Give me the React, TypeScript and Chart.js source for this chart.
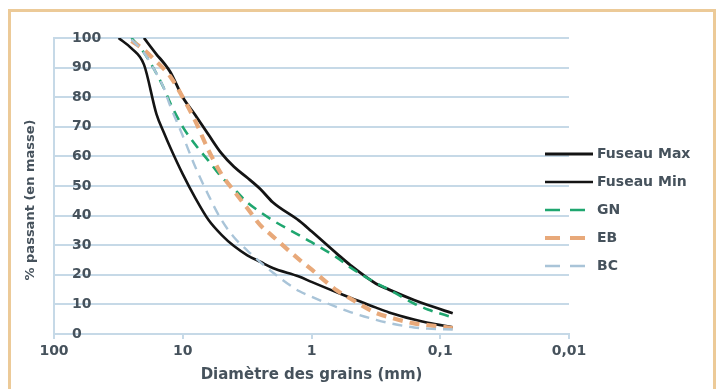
import React, { useEffect, useRef } from 'react';
import { Chart, registerables } from 'chart.js';

Chart.register(...registerables);

// Sieve sizes (mm)
const sieves = [31.5, 25, 20, 16, 14, 12.5, 10, 8, 6.3, 5, 4, 3.15, 2.5, 2, 1.25, 1, 0.63, 0.5, 0.315, 0.25, 0.16, 0.125, 0.08];

// % passing for each series (null = not plotted)
const fuseauMax = [null, null, 100, 94.5, 91.5, 88.5, 80, 74, 67.3, 61, 56.5, 52.8, 49, 44.5, 38.3, 34.7, 27, 23.3, 17, 15, 11.5, 9.8, 7];
const fuseauMin = [100, 96.5, 91, 74.3, 68, 63, 54, 46, 38.5, 33.5, 29.7, 26.6, 24.4, 22.3, 19.4, 17.6, 14, 12.3, 8.9, 7.3, 4.9, 3.8, 2.3];
const gn = [null, 100, 95, 88, 83, 78, 70, 64, 58.5, 53, 49, 44.4, 41.2, 38.4, 33.4, 31, 25.7, 22.5, 17.2, 15, 10.3, 8.3, 5.6];
const eb = [null, 99, 96, 92, 89.5, 87, 80, 72, 62, 54, 48.3, 42.5, 36.8, 33, 25.2, 21.8, 14.6, 12, 7.1, 5.7, 3.6, 3, 2];
const bc = [null, 99.5, 95, 88, 83, 77, 67, 56.5, 46.8, 38.5, 32.7, 28.2, 24.3, 20.8, 14.5, 12.6, 9, 7.4, 4.8, 3.7, 2.2, 1.8, 1.5];

const seriesNames = ['Fuseau Max', 'Fuseau Min', 'GN', 'EB', 'BC'];
const xTickValues = [100, 10, 1, 0.1, 0.01];
const xTickLabels = ['100', '10', '1', '0,1', '0,01'];
const xTitle = 'Diamètre des grains (mm)';
const yTitle = '% passant (en masse)';

const FONT = '"DejaVu Sans", sans-serif';
const TEXT = '#46525c';
const GRID = '#c6d9e7';

const styles = [
  { color: '#141414', width: 2.8, dash: [] as number[], legendDash: [] as number[] },
  { color: '#141414', width: 2.6, dash: [] as number[], legendDash: [] as number[] },
  { color: '#1fa66f', width: 2.6, dash: [10, 7], legendDash: [15, 10] },
  { color: '#e8a97a', width: 4.2, dash: [10, 7], legendDash: [15, 10] },
  { color: '#a9c4d8', width: 2.4, dash: [10, 7], legendDash: [15, 10] },
];

const toPoints = (vals: (number | null)[]) =>
  sieves
    .map((s, i) => (vals[i] == null ? null : { x: s, y: vals[i] as number }))
    .filter((p) => p !== null);

export default function App() {
  const ref = useRef<HTMLCanvasElement>(null);

  useEffect(() => {
    if (!ref.current) return;
    const series = [fuseauMax, fuseauMin, gn, eb, bc];
    const datasets = series.map((vals, i) => ({
      label: seriesNames[i],
      data: toPoints(vals),
      borderColor: styles[i].color,
      backgroundColor: styles[i].color,
      borderWidth: styles[i].width,
      borderDash: styles[i].dash,
      pointRadius: 0,
      showLine: true,
      fill: false,
      cubicInterpolationMode: 'monotone' as const,
      order: series.length - i,
    }));

    const overlay = {
      id: 'overlay',
      afterDraw(chart: any) {
        const ctx = chart.ctx as CanvasRenderingContext2D;
        ctx.save();
        ctx.translate(31, 200);
        ctx.rotate(-Math.PI / 2);
        ctx.font = `bold 13px ${FONT}`;
        ctx.fillStyle = TEXT;
        ctx.textAlign = 'center';
        ctx.textBaseline = 'middle';
        ctx.fillText(yTitle, 0, 0);
        ctx.restore();

        styles.forEach((st, i) => {
          const y = 154 + i * 28;
          ctx.save();
          ctx.strokeStyle = st.color;
          ctx.lineWidth = st.width;
          ctx.setLineDash(st.legendDash);
          ctx.beginPath();
          ctx.moveTo(545, y);
          ctx.lineTo(593, y);
          ctx.stroke();
          ctx.restore();
          ctx.save();
          ctx.font = `bold 14px ${FONT}`;
          ctx.fillStyle = TEXT;
          ctx.textAlign = 'left';
          ctx.textBaseline = 'middle';
          ctx.fillText(seriesNames[i], 597, y);
          ctx.restore();
        });
      },
    };

    const chart = new Chart(ref.current, {
      type: 'scatter',
      data: { datasets },
      options: {
        animation: false,
        responsive: false,
        devicePixelRatio: 1,
        layout: { padding: { left: 0, right: 151, top: 38, bottom: 0 } },
        plugins: { legend: { display: false }, tooltip: { enabled: false } },
        scales: {
          x: {
            type: 'logarithmic',
            reverse: true,
            min: 0.01,
            max: 100,
            afterBuildTicks: (s: any) => {
              s.ticks = xTickValues.map((v) => ({ value: v }));
            },
            afterFit: (s: any) => {
              s.height = 55;
            },
            ticks: {
              autoSkip: false,
              maxRotation: 0,
              padding: 4,
              color: TEXT,
              font: { family: FONT, size: 14, weight: 'bold' },
              callback: (v: any) => {
                const idx = xTickValues.indexOf(Number(v));
                return idx >= 0 ? xTickLabels[idx] : '';
              },
            },
            grid: { display: true, drawOnChartArea: false, tickLength: 5, color: GRID, lineWidth: 2 },
            border: { display: true, color: GRID, width: 2 },
            title: {
              display: true,
              text: xTitle,
              color: TEXT,
              font: { family: FONT, size: 15, weight: 'bold' },
              padding: { top: 0, bottom: 5 },
            },
          },
          y: {
            min: 0,
            max: 100,
            afterFit: (s: any) => {
              s.width = 54;
            },
            ticks: {
              stepSize: 10,
              mirror: true,
              padding: 18,
              color: TEXT,
              font: { family: FONT, size: 14, weight: 'bold' },
            },
            grid: { color: GRID, lineWidth: 2, drawTicks: false },
            border: { display: true, color: GRID, width: 2 },
          },
        },
      },
      plugins: [overlay],
    } as any);

    return () => chart.destroy();
  }, []);

  return (
    <div style={{ position: 'fixed', left: 0, top: 0, width: 720, height: 389, overflow: 'hidden', background: '#fff' }}>
      <canvas ref={ref} width={720} height={389} style={{ display: 'block', width: 720, height: 389 }} />
      <div
        style={{
          position: 'absolute',
          left: 8,
          top: 9,
          width: 708,
          height: 400,
          border: '3px solid #ecca98',
          boxSizing: 'border-box',
          pointerEvents: 'none',
        }}
      />
    </div>
  );
}
